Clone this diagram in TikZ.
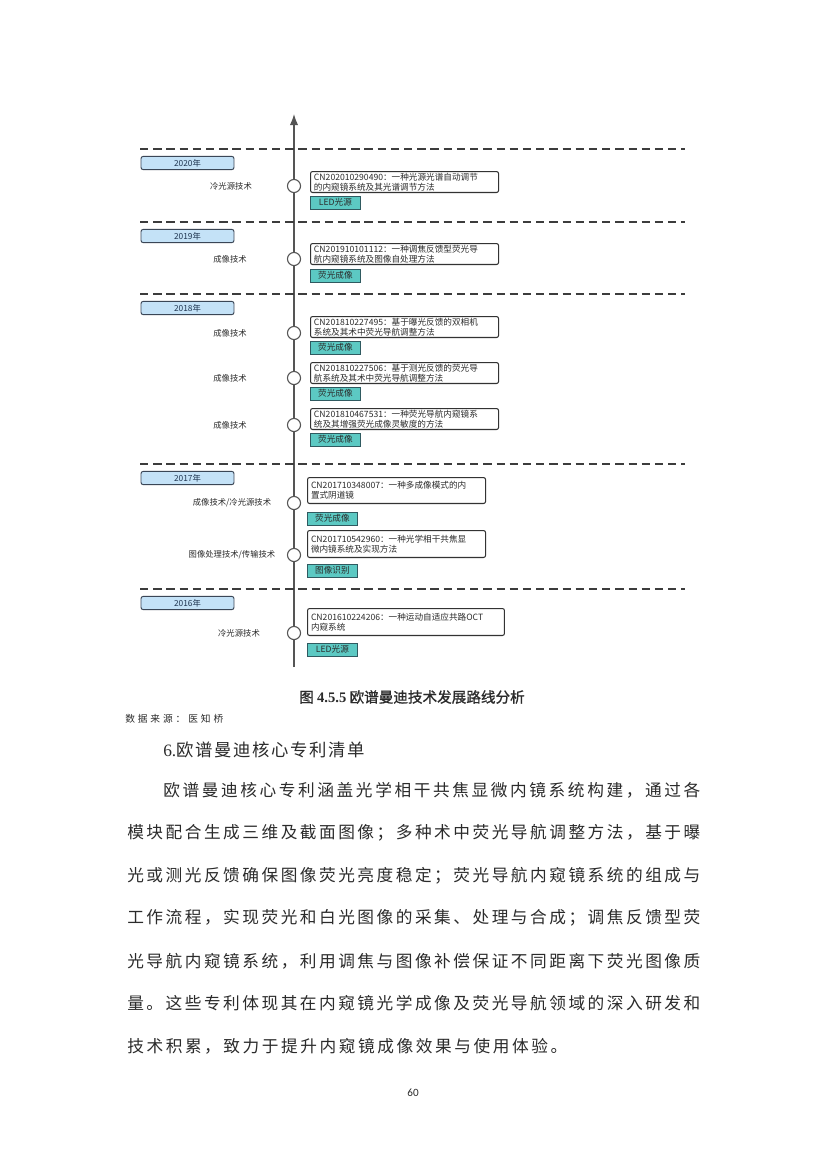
\documentclass[tikz,border=0pt]{standalone}
\usepackage{fontspec}
\usetikzlibrary{arrows.meta}
\setmainfont{Noto Sans CJK SC}
\newfontfamily\latinserif{Liberation Serif}
\newfontfamily\pagefont{Carlito}
\newfontfamily\capfont[FakeBold=1.2]{Noto Sans CJK SC}
\definecolor{ink}{HTML}{2B2B2B}
\definecolor{axisgray}{HTML}{555555}
\definecolor{bandgray}{HTML}{3C3C3C}
\definecolor{yearfill}{HTML}{C4E2F7}
\definecolor{yearedge}{HTML}{3A4656}
\definecolor{yeartext}{HTML}{1F3550}
\definecolor{tagfill}{HTML}{5CC9C3}
\definecolor{tagedge}{HTML}{2F5A60}
\definecolor{boxedge}{HTML}{333333}
\makeatletter
\newcommand\spreadline[2]{\makebox[#1][s]{\@tfor\spr@ch:=#2\do{\spr@ch\hfil}\unskip}}
\makeatother
\begin{document}
\begin{tikzpicture}[x=0.7195pt,y=-0.7195pt,
	every node/.style={text=ink},
	bandline/.style={draw=bandgray,line width=0.8pt,dash pattern=on 6pt off 3.5pt},
	axisline/.style={draw=axisgray,line width=0.9pt},
	yearbox/.style={draw=yearedge,fill=yearfill,rounded corners=1.5pt,line width=0.7pt,minimum width=66.9pt,minimum height=9.4pt,inner sep=0pt,font=\fontsize{6}{7}\selectfont,text=yeartext},
	dot/.style={circle,draw=axisgray,fill=white,line width=0.8pt,minimum size=9.4pt,inner sep=0pt},
	techlabel/.style={font=\fontsize{6}{7}\selectfont,inner sep=0pt},
	patent/.style={draw=boxedge,fill=white,rounded corners=1.5pt,line width=0.75pt,anchor=north west,align=left,inner xsep=2.5pt,inner ysep=0pt,font=\fontsize{6.2}{7.4}\selectfont},
	tagbox/.style={draw=tagedge,fill=tagfill,line width=0.6pt,anchor=north west,minimum width=36pt,minimum height=9pt,inner sep=0pt,font=\fontsize{6.2}{7}\selectfont},
	bodyline/.style={anchor=west,inner sep=0pt,font=\fontsize{12}{14}\selectfont}]
	\useasboundingbox (0,0) rectangle (827,1169);
	\fill[white] (0,0) rectangle (827,1169);
	% time axis
	\coordinate (axisbot) at (294,667);
	\coordinate (axistop) at (294,114);
	\draw[axisline,-{Latex[length=8pt,width=6pt]}] (axisbot) -- (axistop);
	% year bands
	\foreach \yr/\dy in {2020/149, 2019/222, 2018/294, 2017/464, 2016/589}{
		\draw[bandline] (140,\dy) -- (685,\dy);
		\node[yearbox] (y\yr) at (187.5,\dy+14) {\yr 年};
	}
	% patents
	\foreach \i/\cy/\lx/\lab/\px/\py/\pw/\ph/\txt/\ty/\tg in {%
		1/186/231/{冷光源技术}/310/171/135.3/15.1/{CN202010290490：一种光源光谱自动调节\\的内窥镜系统及其光谱调节方法}/196/{LED光源},%
		2/259/230/{成像技术}/310/243/135.3/15.1/{CN201910101112：一种调焦反馈型荧光导\\航内窥镜系统及图像自处理方法}/269/{荧光成像},%
		3/333/230/{成像技术}/310/316/135.3/15.1/{CN201810227495：基于曝光反馈的双相机\\系统及其术中荧光导航调整方法}/341/{荧光成像},%
		4/378/230/{成像技术}/310/362/135.3/15.1/{CN201810227506：基于测光反馈的荧光导\\航系统及其术中荧光导航调整方法}/387/{荧光成像},%
		5/425/230/{成像技术}/310/408/135.3/15.1/{CN201810467531：一种荧光导航内窥镜系\\统及其增强荧光成像灵敏度的方法}/433/{荧光成像},%
		6/503/232/{成像技术/冷光源技术}/307/477/128.1/18.7/{CN201710348007：一种多成像模式的内\\置式阴道镜}/512/{荧光成像},%
		7/555/232/{图像处理技术/传输技术}/307/530/128.1/19.4/{CN201710542960：一种光学相干共焦显\\微内镜系统及实现方法}/564/{图像识别},%
		8/633/239/{冷光源技术}/307/608/141.7/19.4/{CN201610224206：一种运动自适应共路OCT\\内窥系统}/643/{LED光源}%
	}{
		\pgfmathsetmacro\tw{\pw-5}
		\node[dot] (c\i) at (294,\cy) {};
		\node[techlabel] (l\i) at (\lx,\cy) {\lab};
		\node[patent,minimum width=\pw pt,minimum height=\ph pt,text width=\tw pt] (p\i) at (\px,\py) {\txt};
		\node[tagbox] (t\i) at (\px,\ty) {\tg};
	}
	% page text
	\node (caption) at (412,697) {\capfont\fontsize{10.5}{12}\selectfont 图 {\latinserif\bfseries 4.5.5} 欧谱曼迪技术发展路线分析};
	\node[anchor=west,inner sep=0pt] (source) at (125,719) {\fontsize{7}{8}\selectfont\spreadline{70.5pt}{数据来源：医知桥}};
	\node[anchor=west,inner sep=0pt] (heading) at (163,750) {\fontsize{12.5}{14}\selectfont{\latinserif 6.}\spreadline{136pt}{欧谱曼迪核心专利清单}};
	\node[bodyline] (body1) at (163,790) {\spreadline{386.4pt}{欧谱曼迪核心专利涵盖光学相干共焦显微内镜系统构建，通过各}};
	\node[bodyline] (body2) at (127,832.7) {\spreadline{412.3pt}{模块配合生成三维及截面图像；多种术中荧光导航调整方法，基于曝}};
	\node[bodyline] (body3) at (127,875.4) {\spreadline{412.3pt}{光或测光反馈确保图像荧光亮度稳定；荧光导航内窥镜系统的组成与}};
	\node[bodyline] (body4) at (127,918.1) {\spreadline{412.3pt}{工作流程，实现荧光和白光图像的采集、处理与合成；调焦反馈型荧}};
	\node[bodyline] (body5) at (127,960.8) {\spreadline{412.3pt}{光导航内窥镜系统，利用调焦与图像补偿保证不同距离下荧光图像质}};
	\node[bodyline] (body6) at (127,1003.5) {\spreadline{412.3pt}{量。这些专利体现其在内窥镜光学成像及荧光导航领域的深入研发和}};
	\node[bodyline] (body7) at (127,1046.2) {\spreadline{316.6pt}{技术积累，致力于提升内窥镜成像效果与使用体验。}};
	\node (pagenum) at (413,1093) {\pagefont\fontsize{8}{9}\selectfont 60};
\end{tikzpicture}
\end{document}
